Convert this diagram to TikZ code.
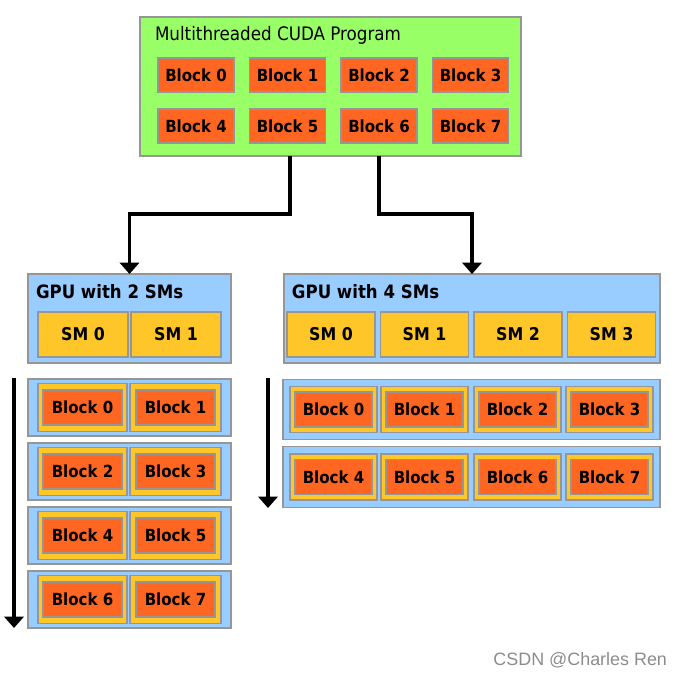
\documentclass[tikz,border=0pt]{standalone}
\usepackage{fontspec}
\setmainfont{DejaVu Sans Condensed}
\newfontfamily\markfont{Liberation Sans}
\usetikzlibrary{positioning, arrows.meta, calc}
\definecolor{ProgGreen}{RGB}{153,255,102}
\definecolor{BlockOrange}{RGB}{255,102,34}
\definecolor{GPUBlue}{RGB}{153,204,255}
\definecolor{SMYellow}{RGB}{255,198,41}
\definecolor{EdgeGray}{RGB}{150,150,150}

\begin{document}
\begin{tikzpicture}[x=0.02cm, y=-0.02cm,
  every node/.style={inner sep=0pt, outer sep=0pt},
  prog/.style={rectangle, draw=EdgeGray, line width=0.8pt, fill=ProgGreen},
  gpu/.style={rectangle, draw=EdgeGray, line width=0.8pt, fill=GPUBlue},
  sm/.style={rectangle, draw=EdgeGray, line width=0.8pt, fill=SMYellow, font=\fontsize{10}{12}\selectfont\bfseries},
  block/.style={rectangle, draw=EdgeGray, line width=0.8pt, fill=BlockOrange, font=\fontsize{9.5}{11}\selectfont\bfseries},
  title/.style={anchor=west, font=\fontsize{10.5}{12}\selectfont\bfseries},
  flow/.style={-{Triangle[length=6.5pt, width=11pt]}, line width=2.2pt}
]
\useasboundingbox (0,0) rectangle (681,676);

% Program with its blocks
\node[prog, minimum width=7.62cm, minimum height=2.78cm] (prog) at (330.5,86.5) {};
\node[anchor=west, font=\fontsize{10.6}{12}\selectfont] (progtitle) at (155,35) {Multithreaded CUDA Program};
\foreach \i/\x/\y in {0/196/75, 1/287.5/75, 2/379/75, 3/470.5/75,
                      4/196/126, 5/287.5/126, 6/379/126, 7/470.5/126}
  \node[block, minimum width=1.52cm, minimum height=0.68cm] (pb\i) at (\x,\y) {Block \i};

% GPU with 2 SMs
\node[gpu, minimum width=4.06cm, minimum height=1.78cm] (gpu2) at (129.5,318.5) {};
\node[title] (gpu2title) at (36,292) {GPU with 2 SMs};
\foreach \i/\x in {0/83, 1/176}
  \node[sm, minimum width=1.8cm, minimum height=0.9cm] (ltsm\i) at (\x,334.5) {SM \i};

% GPU with 4 SMs
\node[gpu, minimum width=7.52cm, minimum height=1.78cm] (gpu4) at (472,318.5) {};
\node[title] (gpu4title) at (292,292) {GPU with 4 SMs};
\foreach \i/\x in {0/331, 1/424.5, 2/518, 3/611.5}
  \node[sm, minimum width=1.76cm, minimum height=0.9cm] (rtsm\i) at (\x,334.5) {SM \i};

% Schedule on 2 SMs
\foreach \r in {0,...,3} {
  \pgfmathtruncatemacro{\ba}{2*\r}
  \pgfmathtruncatemacro{\bb}{2*\r+1}
  \node[gpu, minimum width=4.06cm, minimum height=1.14cm] (lrow\r) at (129.5,407.5+64*\r) {};
  \node[sm, minimum width=1.78cm, minimum height=0.96cm] (lslot\ba) at (82.5,407.5+64*\r) {};
  \node[sm, minimum width=1.82cm, minimum height=0.96cm] (lslot\bb) at (175.5,407.5+64*\r) {};
  \node[block, minimum width=1.58cm, minimum height=0.70cm] (lb\ba) at (lslot\ba) {Block \ba};
  \node[block, minimum width=1.58cm, minimum height=0.70cm] (lb\bb) at (lslot\bb) {Block \bb};
}

% Schedule on 4 SMs
\foreach \r/\y in {0/409.5, 1/477} {
  \node[gpu, minimum width=7.54cm, minimum height=1.21cm] (rrow\r) at (471.5,\y) {};
  \foreach \c/\x in {0/333.5, 1/424.5, 2/517.5, 3/609.5} {
    \pgfmathtruncatemacro{\b}{4*\r+\c}
    \node[sm, minimum width=1.74cm, minimum height=0.92cm] (rslot\b) at (\x,\y) {};
    \node[block, minimum width=1.54cm, minimum height=0.70cm] (rb\b) at (rslot\b) {Block \b};
  }
}

% Time arrows
\coordinate (ltime0) at (14,378);
\coordinate (ltime1) at (14,628);
\coordinate (rtime0) at (268,378);
\coordinate (rtime1) at (268,508);
\draw[flow] (ltime0) -- (ltime1);
\draw[flow] (rtime0) -- (rtime1);

% Program to GPUs
\draw[flow] ($(prog.south)+(-40.5,0)$) -- ++(0,58) -| (gpu2.north);
\draw[flow] ($(prog.south)+(48.5,0)$) -- ++(0,58) -| (gpu4.north);

\node[anchor=east, font=\markfont\fontsize{10.2}{12}\selectfont, text=black!45] (mark) at (667,660) {CSDN @Charles Ren};
\end{tikzpicture}
\end{document}
